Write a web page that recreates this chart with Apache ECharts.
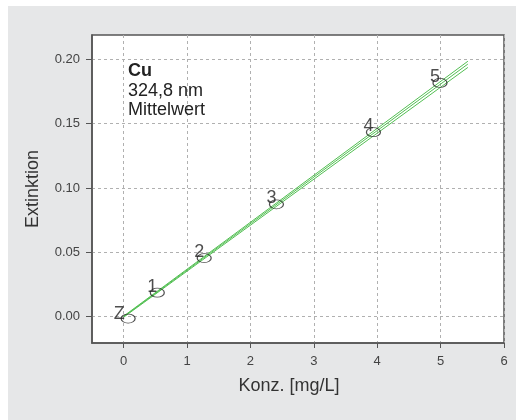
<!DOCTYPE html>
<html>
<head>
<meta charset="utf-8">
<script src="https://cdn.jsdelivr.net/npm/echarts@6/dist/echarts.min.js"></script>
<style>
html,body{margin:0;padding:0;background:#fff;}
#c{width:522px;height:420px;}
</style>
</head>
<body>
<div id="c"></div>
<script>
// Data
var pointNames = ['Z', '1', '2', '3', '4', '5'];
var pointX = [0.07, 0.53, 1.27, 2.41, 3.94, 4.99];
var pointY = [-0.0015, 0.0186, 0.0455, 0.0873, 0.1434, 0.1817];
var fitX = [0, 5.43];
var fitUpperY = [0.0004, 0.1986];
var fitMidY = [0.0, 0.1964];
var fitLowerY = [-0.0004, 0.1938];
var xTicks = [0, 1, 2, 3, 4, 5, 6];
var yTicks = [0, 0.05, 0.1, 0.15, 0.2];
var annoLines = ['Cu', '324,8 nm', 'Mittelwert'];

var chart = echarts.init(document.getElementById('c'), null, {renderer: 'canvas'});
var FONT = '"Liberation Sans", Arial, Helvetica, sans-serif';
var green = '#52bf52';

function linePairs(ys) {
  return fitX.map(function (x, i) { return [x, ys[i]]; });
}
var points = pointX.map(function (x, i) {
  var off = i === 0 ? [-9, -5] : [-5, -6];
  return {name: pointNames[i], value: [x, pointY[i]], label: {offset: off}};
});

var option = {
  backgroundColor: 'transparent',
  animation: false,
  graphic: {
    elements: [
      {type: 'rect', z: -100, shape: {x: 8, y: 6, width: 508, height: 414}, style: {fill: '#e6e7e8'}, silent: true},
      {type: 'text', left: 128, top: 62, z: 100, style: {text: annoLines[0], font: 'bold 18px ' + FONT, fill: '#222'}},
      {type: 'text', left: 128, top: 82, z: 100, style: {text: annoLines[1], font: '18px ' + FONT, fill: '#222'}},
      {type: 'text', left: 128, top: 101, z: 100, style: {text: annoLines[2], font: '18px ' + FONT, fill: '#222'}}
    ]
  },
  grid: {
    left: 92, top: 35, right: 18, bottom: 77,
    show: true, backgroundColor: '#fff', borderColor: '#555', borderWidth: 1.5
  },
  xAxis: {
    type: 'value', min: -0.5, max: 6,
    name: 'Konz. [mg/L]', nameLocation: 'middle', nameGap: 34,
    nameTextStyle: {fontFamily: FONT, fontSize: 18, color: '#333', padding: [0, 18, 0, 0]},
    axisLine: {show: true, onZero: false, lineStyle: {color: '#555', width: 1.5}},
    axisTick: {show: true, customValues: xTicks, length: 5, lineStyle: {color: '#555', width: 1}},
    axisLabel: {customValues: xTicks, margin: 12, fontFamily: FONT, fontSize: 13, color: '#444'},
    splitLine: {show: true, lineStyle: {color: '#b0b0b0', type: [3, 3], width: 1}}
  },
  yAxis: {
    type: 'value', min: -0.0205, max: 0.219,
    name: 'Extinktion', nameLocation: 'middle', nameGap: 50,
    nameTextStyle: {fontFamily: FONT, fontSize: 18, color: '#333'},
    axisLine: {show: true, onZero: false, lineStyle: {color: '#555', width: 1.5}},
    axisTick: {show: true, customValues: yTicks, length: 6, lineStyle: {color: '#555', width: 1}},
    axisLabel: {customValues: yTicks, margin: 12, fontFamily: FONT, fontSize: 13, color: '#444',
      formatter: function (v) { return v.toFixed(2); }},
    splitLine: {show: true, lineStyle: {color: '#b0b0b0', type: [3, 3], width: 1}}
  },
  series: [
    {type: 'line', data: linePairs(fitUpperY), symbol: 'none', lineStyle: {color: green, width: 1}, z: 2},
    {type: 'line', data: linePairs(fitMidY), symbol: 'none', lineStyle: {color: green, width: 1}, z: 2},
    {type: 'line', data: linePairs(fitLowerY), symbol: 'none', lineStyle: {color: green, width: 1}, z: 2},
    {
      type: 'scatter', data: points, symbol: 'circle', symbolSize: [14, 9], z: 3,
      itemStyle: {color: 'rgba(0,0,0,0)', borderColor: '#222', borderWidth: 1},
      label: {show: true, position: 'inside', formatter: '{b}', fontFamily: FONT, fontSize: 18, color: '#222'}
    }
  ]
};
chart.setOption(option);
</script>
</body>
</html>
